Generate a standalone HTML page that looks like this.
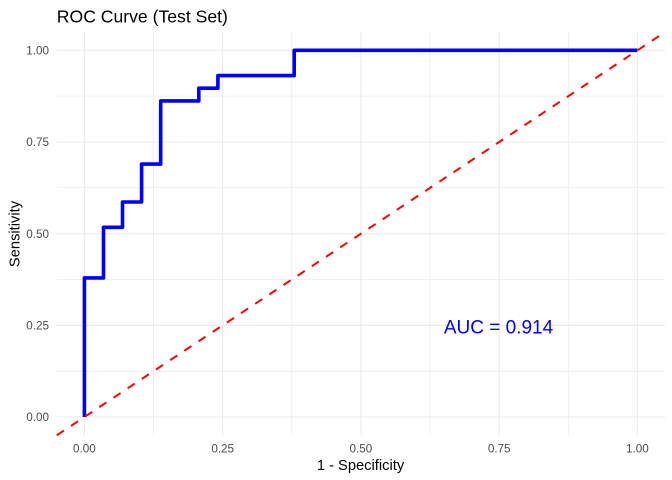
<!DOCTYPE html>
<html>
<head>
<meta charset="utf-8">
<style>
html,body{margin:0;padding:0;background:#fff;}
svg{display:block;}
text{font-family:"Liberation Sans",Arial,sans-serif;}
</style>
</head>
<body>
<svg width="672" height="480" viewBox="0 0 672 480" xmlns="http://www.w3.org/2000/svg">
<rect x="0" y="0" width="672" height="480" fill="#ffffff"/>
<!-- minor grid -->
<g stroke="#EBEBEB" stroke-width="0.8" fill="none">
<line x1="153.5" y1="32" x2="153.5" y2="435.3"/>
<line x1="291.8" y1="32" x2="291.8" y2="435.3"/>
<line x1="430.0" y1="32" x2="430.0" y2="435.3"/>
<line x1="568.3" y1="32" x2="568.3" y2="435.3"/>
<line x1="56.8" y1="371.2" x2="665.1" y2="371.2"/>
<line x1="56.8" y1="279.5" x2="665.1" y2="279.5"/>
<line x1="56.8" y1="187.8" x2="665.1" y2="187.8"/>
<line x1="56.8" y1="96.1" x2="665.1" y2="96.1"/>
</g>
<!-- major grid -->
<g stroke="#EBEBEB" stroke-width="1.1" fill="none">
<line x1="84.4" y1="32" x2="84.4" y2="435.3"/>
<line x1="222.7" y1="32" x2="222.7" y2="435.3"/>
<line x1="360.9" y1="32" x2="360.9" y2="435.3"/>
<line x1="499.2" y1="32" x2="499.2" y2="435.3"/>
<line x1="637.4" y1="32" x2="637.4" y2="435.3"/>
<line x1="56.8" y1="417" x2="665.1" y2="417"/>
<line x1="56.8" y1="325.3" x2="665.1" y2="325.3"/>
<line x1="56.8" y1="233.7" x2="665.1" y2="233.7"/>
<line x1="56.8" y1="142.0" x2="665.1" y2="142.0"/>
<line x1="56.8" y1="50.3" x2="665.1" y2="50.3"/>
</g>
<!-- ROC curve -->
<polyline fill="none" stroke="#0000FF" stroke-width="3.6" stroke-linejoin="round" stroke-linecap="butt"
points="84.4,417 84.4,277.9 103.5,277.9 103.5,227.3 122.5,227.3 122.5,202.0 141.6,202.0 141.6,164.1 160.7,164.1 160.7,100.9 198.8,100.9 198.8,88.2 217.9,88.2 217.9,75.6 294.2,75.6 294.2,50.3 637.4,50.3"/>
<!-- diagonal -->
<line x1="56.8" y1="435.3" x2="665.1" y2="32" stroke="#FF0000" stroke-width="2" stroke-dasharray="8.5 8.5"/>
<!-- AUC label -->
<text x="498.5" y="333.5" font-size="19" fill="#0000FF" text-anchor="middle">AUC = 0.914</text>
<!-- y tick labels -->
<g font-size="11.7" fill="#4D4D4D" text-anchor="end">
<text x="49" y="421.2">0.00</text>
<text x="49" y="329.5">0.25</text>
<text x="49" y="237.9">0.50</text>
<text x="49" y="146.2">0.75</text>
<text x="49" y="54.5">1.00</text>
</g>
<!-- x tick labels -->
<g font-size="11.7" fill="#4D4D4D" text-anchor="middle">
<text x="84.4" y="452.5">0.00</text>
<text x="222.7" y="452.5">0.25</text>
<text x="360.9" y="452.5">0.50</text>
<text x="499.2" y="452.5">0.75</text>
<text x="637.4" y="452.5">1.00</text>
</g>
<!-- axis titles -->
<text x="360.5" y="470" font-size="14.7" fill="#000" text-anchor="middle">1 - Specificity</text>
<text x="0" y="0" font-size="14.7" fill="#000" text-anchor="middle" transform="translate(19.3,234) rotate(-90)">Sensitivity</text>
<!-- title -->
<text x="56.8" y="22.3" font-size="17.6" fill="#000">ROC Curve (Test Set)</text>
</svg>
</body>
</html>
